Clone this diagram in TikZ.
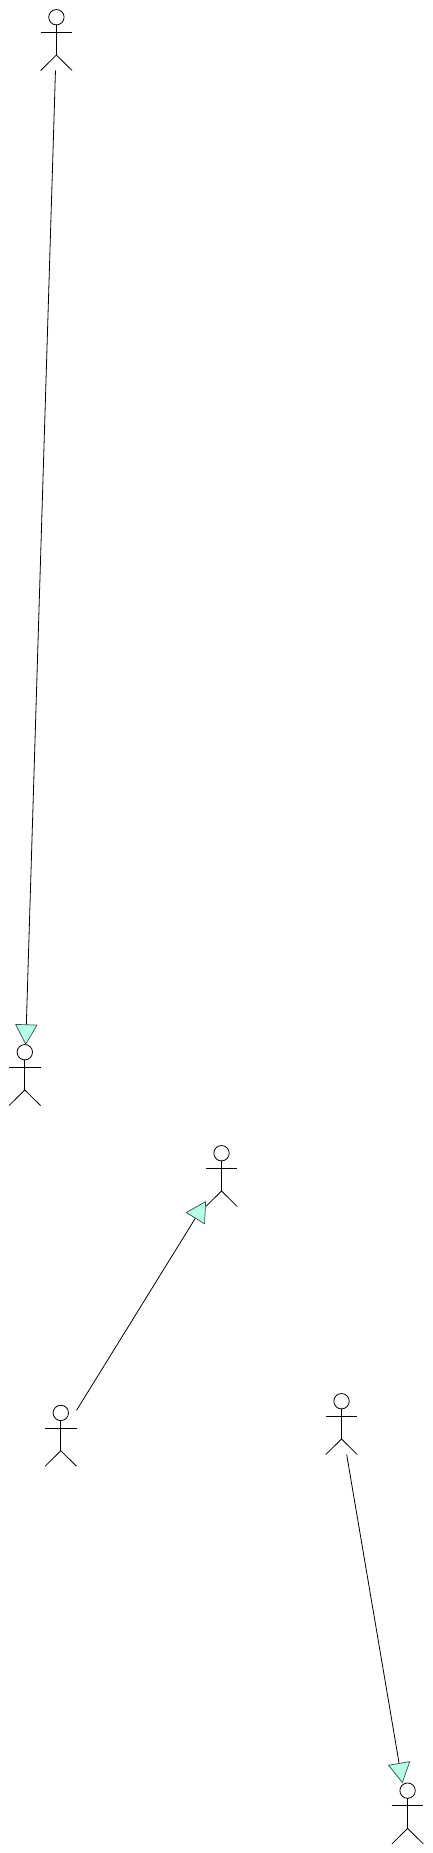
\documentclass[tikz,border=0pt]{standalone}
\usetikzlibrary{arrows.meta}
\definecolor{tipfill}{HTML}{B5FFE4}
\definecolor{tipline}{HTML}{2F4F4A}
\tikzset{
 actorbox/.style={rectangle,minimum width=31.4pt,minimum height=61pt,inner sep=0pt,outer sep=0pt},
 stick/.style={black,line width=.8pt},
 assoc/.style={black,line width=.8pt,-{Triangle[length=20.5pt,width=22.5pt,fill=tipfill,color=tipline,line width=.7pt,round]}}
}

\begin{document}
\begin{tikzpicture}[x=1pt,y=-1pt]
 \useasboundingbox (0,0) rectangle (433,1853);
 % stick figures
 \foreach \name/\px/\py in {topactor/56.4/40,leftactor/24.8/1075,midactor/221.5/1176,lowactor/60.8/1435.7,rightactor/341.5/1424,endactor/407.6/1813.4}{
  \node[actorbox] (\name) at (\px,\py) {};
  \draw[stick] (\px,\py-22.8) circle (7.7pt);
  \draw[stick] (\px,\py-15.1)--(\px,\py+15);
  \draw[stick] (\px-15.7,\py-7.7)--(\px+15.7,\py-7.7);
  \draw[stick] (\px-15.7,\py+30.5)--(\px,\py+15)--(\px+15.7,\py+30.5);
 }
 % connectors
 \draw[assoc] (topactor)--(leftactor);
 \draw[assoc] (lowactor)--(midactor);
 \draw[assoc] (rightactor)--(endactor);
\end{tikzpicture}
\end{document}
